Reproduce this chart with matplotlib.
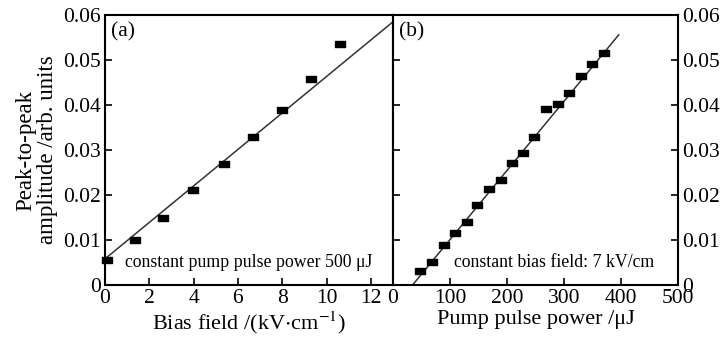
import matplotlib
matplotlib.use("Agg")
import matplotlib.pyplot as plt
import numpy as np
from matplotlib.path import Path

plt.rcParams['font.family'] = ['Liberation Serif', 'DejaVu Serif']
plt.rcParams['mathtext.fontset'] = 'stix'

# Panel (a): bias field dependence
bias_field = [0.1, 1.36, 2.64, 3.96, 5.35, 6.67, 7.99, 9.30, 10.63]
amp_a = [0.0056, 0.0100, 0.0148, 0.0211, 0.0270, 0.0330, 0.0389, 0.0457, 0.0536]
fit_a_x = [0.0, 13.0]
fit_a_y = [0.0058, 0.0585]

# Panel (b): pump pulse power dependence
pump_power = [48, 69, 89, 109, 129, 148, 168, 190, 209, 228, 248, 269, 290, 309, 330, 349, 371]
amp_b = [0.0030, 0.0052, 0.0089, 0.0115, 0.0141, 0.0178, 0.0213, 0.0233, 0.0272,
         0.0294, 0.0330, 0.0391, 0.0402, 0.0426, 0.0465, 0.0491, 0.0515]
fit_b_x = [34.4, 396.0]
fit_b_y = [0.0, 0.0556]

yticks = [0, 0.01, 0.02, 0.03, 0.04, 0.05, 0.06]
ytick_labels = ['0', '0.01', '0.02', '0.03', '0.04', '0.05', '0.06']
xticks_a = [0, 2, 4, 6, 8, 10, 12]
xticks_b = [0, 100, 200, 300, 400, 500]

rect = Path([(-1, -0.68), (1, -0.68), (1, 0.68), (-1, 0.68), (-1, -0.68)],
            [Path.MOVETO, Path.LINETO, Path.LINETO, Path.LINETO, Path.CLOSEPOLY])

fig = plt.figure(figsize=(7.26, 3.40), dpi=100)
axa = fig.add_axes([0.1446, 0.1618, 0.3967, 0.794])
axb = fig.add_axes([0.5413, 0.1618, 0.3926, 0.794])

fs_tick = 15.5
fs_lab = 16
for ax in (axa, axb):
    for s in ax.spines.values():
        s.set_linewidth(1.5)
    ax.set_ylim(0, 0.06)
    ax.set_yticks(yticks)
    ax.tick_params(direction='in', length=5, width=1.2, labelsize=fs_tick, pad=3)

# panel a
axa.plot(fit_a_x, fit_a_y, color='#333333', lw=1.1, zorder=2)
axa.plot(bias_field, amp_a, linestyle='none', marker=rect, markersize=6.8,
         color='black', zorder=3, clip_on=False)
axa.set_xlim(0, 13)
axa.set_xticks(xticks_a)
axa.set_yticklabels(ytick_labels)
axa.set_xlabel(r'Bias field /(kV$\cdot$cm$^{-1}$)', fontsize=fs_lab, labelpad=1)
axa.set_ylabel('Peak-to-peak\namplitude /arb. units', fontsize=16.5, labelpad=4,
               linespacing=1.0)
axa.text(0.02, 0.975, '(a)', transform=axa.transAxes, fontsize=15.5, va='top', ha='left')
axa.text(0.93, 0.05, 'constant pump pulse power 500 μJ', transform=axa.transAxes,
         fontsize=12.8, ha='right', va='bottom')

# panel b
axb.plot(fit_b_x, fit_b_y, color='#333333', lw=1.1, zorder=2)
axb.plot(pump_power, amp_b, linestyle='none', marker=rect, markersize=6.8,
         color='black', zorder=3)
axb.set_xlim(0, 500)
axb.set_xticks(xticks_b)
axb.yaxis.tick_right()
axb.tick_params(axis='y', left=True, right=True, labelleft=False, labelright=True)
axb.set_yticklabels(ytick_labels)
axb.set_xlabel('Pump pulse power /μJ', fontsize=fs_lab, labelpad=1)
axb.text(0.02, 0.975, '(b)', transform=axb.transAxes, fontsize=15.5, va='top', ha='left')
axb.text(0.915, 0.05, 'constant bias field: 7 kV/cm', transform=axb.transAxes,
         fontsize=12.8, ha='right', va='bottom')

fig.savefig('out.png', dpi=100)
